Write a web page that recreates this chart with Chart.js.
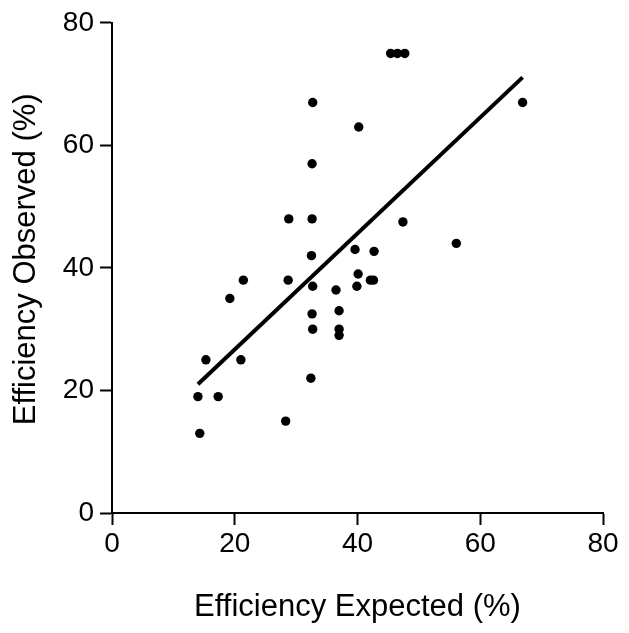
<!DOCTYPE html>
<html lang="en">

<head>
    <meta charset="UTF-8">
    <title>Efficiency Observed vs Expected</title>
    <script src="https://cdn.jsdelivr.net/npm/chart.js"></script>
    <style>
        html, body { margin: 0; padding: 0; background: #fff; }
        #wrap { width: 629px; height: 633px; }
    </style>
</head>

<body>
    <div id="wrap"><canvas id="scatterChart"></canvas></div>

    <script>
        // data
        const expected = [45.4, 46.5, 47.7, 32.7, 40.2, 66.9, 32.6, 28.8, 32.6, 47.4, 56.1, 32.5,
            39.6, 42.7, 21.4, 28.7, 40.1, 32.7, 36.5, 39.9, 42.1, 42.6, 19.2, 32.6,
            37.0, 32.7, 37.0, 37.0, 15.3, 21.0, 32.4, 14.0, 17.3, 14.3, 28.3];
        const observed = [75, 75, 75, 67, 63, 67, 57, 48, 48, 47.5, 44, 42,
            43, 42.7, 38, 38, 39, 37, 36.4, 37, 38, 38, 35, 32.5,
            33, 30, 30, 29, 25, 25, 22, 19, 19, 13, 15];
        // regression line end points
        const fitX = [14.0, 66.9];
        const fitY = [21.0, 71.1];
        const tickValues = [0, 20, 40, 60, 80];

        const family = "'Liberation Sans', Arial, sans-serif";
        const tickFont = { family: family, size: 28 };
        const titleFont = { family: family, size: 31 };

        const points = expected.map((x, i) => ({ x: x, y: observed[i] }));
        const fit = fitX.map((x, i) => ({ x: x, y: fitY[i] }));

        const axis = (title, pad, tickPad) => ({
            type: 'linear',
            min: tickValues[0],
            max: tickValues[tickValues.length - 1],
            afterBuildTicks: s => { s.ticks = tickValues.map(v => ({ value: v })); },
            grid: {
                display: true,
                drawOnChartArea: false,
                drawTicks: true,
                tickLength: 12,
                tickWidth: 2,
                color: '#000'
            },
            border: { display: true, color: '#000', width: 2 },
            ticks: { color: '#000', font: tickFont, padding: tickPad },
            title: { display: true, text: title, color: '#000', font: titleFont, padding: pad }
        });

        const xAxis = axis('Efficiency Expected (%)', { top: 0, bottom: 7 }, 2);
        xAxis.afterFit = s => { s.height = 120; };
        // two leading spaces nudge the rotated title a little upwards
        const yAxis = axis('  Efficiency Observed (%)', { top: 8, bottom: 0 }, 6);
        yAxis.afterFit = s => { s.width = 112; };

        Chart.defaults.font.family = family;

        new Chart(document.getElementById('scatterChart'), {
            type: 'scatter',
            data: {
                datasets: [{
                    label: 'Fit',
                    type: 'line',
                    data: fit,
                    borderColor: '#000',
                    borderWidth: 4,
                    pointRadius: 0,
                    fill: false
                }, {
                    label: 'Samples',
                    data: points,
                    backgroundColor: '#000',
                    borderColor: '#000',
                    pointRadius: 4.7,
                    borderWidth: 0
                }]
            },
            options: {
                responsive: true,
                maintainAspectRatio: false,
                animation: false,
                layout: { padding: { top: 21, right: 26, left: 0, bottom: 0 } },
                plugins: {
                    legend: { display: false },
                    tooltip: { enabled: false }
                },
                scales: { x: xAxis, y: yAxis }
            }
        });
    </script>
</body>

</html>
